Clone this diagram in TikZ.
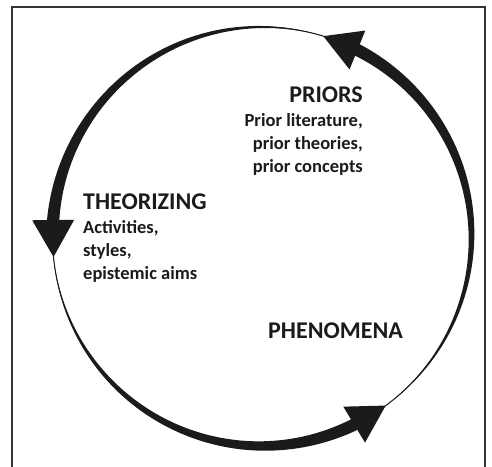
\documentclass[tikz,border=0pt]{standalone}
\usepackage{fontspec}
\setmainfont{Carlito}
\usetikzlibrary{calc}
\definecolor{ink}{HTML}{1C1A1B}
\newcommand\tarc[3]{%
  \fill[ink] plot[domain=#1:#2,samples=90,variable=\t]
      ({\cx+(\R+0.5*#3*(\t-#1)/(#2-#1))*cos(\t)},{\cy-(\R+0.5*#3*(\t-#1)/(#2-#1))*sin(\t)})
    -- plot[domain=#2:#1,samples=90,variable=\t]
      ({\cx+(\R-0.5*#3*(\t-#1)/(#2-#1))*cos(\t)},{\cy-(\R-0.5*#3*(\t-#1)/(#2-#1))*sin(\t)})
    -- cycle;}
\begin{document}
\begin{tikzpicture}[x=1pt,y=-1pt,
  head/.style={font=\fontsize{24}{26}\selectfont\bfseries, text=ink, inner sep=0pt},
  body/.style={font=\fontsize{18.5}{23}\selectfont\bfseries, text=ink, inner sep=0pt},
  frame/.style={draw=black!80, line width=1.2pt}]
\useasboundingbox (0,0) rectangle (492,466);
\def\cx{262}\def\cy{236.5}\def\R{209.5}
% frame
\coordinate (f1) at (12,470);
\coordinate (f2) at (12,7);
\coordinate (f3) at (485,7);
\coordinate (f4) at (485,470);
\draw[frame] (f1) -- (f2) -- (f3) -- (f4);
% thin circle
\node[draw=ink, line width=1pt, circle, minimum size=419pt, inner sep=0pt] (circ) at (\cx,\cy) {};
% tapered bodies
\tarc{-53.8}{65}{12.5}
\tarc{73}{177.5}{12.5}
\tarc{185.6}{298}{12.5}
% arrowheads
\foreach \tip/\nm in {73/top, 185.6/left, 306.2/bot}{
  \coordinate (T\nm) at ({\cx+\R*cos(\tip)},{\cy-\R*sin(\tip)});
  \coordinate (B\nm) at ({\cx+\R*cos(\tip-10.1)},{\cy-\R*sin(\tip-10.1)});
  \fill[ink] (T\nm) -- ($(B\nm)!21pt!90:(T\nm)$) -- ($(B\nm)!21pt!-90:(T\nm)$) -- cycle;
}
% texts (multi-line nodes: base anchor = last line)
\node[head, anchor=base east] (priors) at (363,102) {PRIORS};
\node[body, anchor=base east, align=right] (priorsT) at (363,172) {Prior literature,\\prior theories,\\prior concepts};
\node[head, anchor=base west] (theo) at (83,209) {THEORIZING};
\node[body, anchor=base west, align=left] (theoT) at (83,279) {Activities,\\styles,\\epistemic aims};
\node[head, anchor=base west] (phen) at (268,338) {PHENOMENA};
\end{tikzpicture}
\end{document}
